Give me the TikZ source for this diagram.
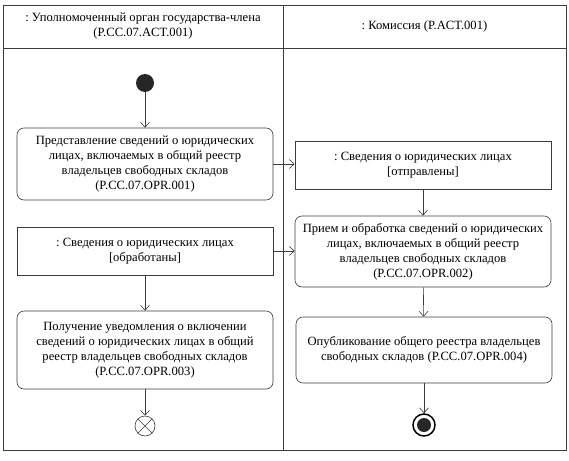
\documentclass[tikz,border=0pt]{standalone}
\usepackage{fontspec}
\setmainfont{Liberation Serif}
\usetikzlibrary{arrows.meta,positioning,calc}
\definecolor{lineclr}{RGB}{60,60,60}
\frenchspacing

\begin{document}
\begin{tikzpicture}[
  x=1pt, y=-1pt,
  font=\fontsize{12.6}{15}\selectfont,
  line width=0.6pt,
  arr/.style={-{Straight Barb[length=5pt,width=9pt]}, draw=lineclr},
  act/.style={draw=lineclr, rounded corners=7pt, align=center, minimum width=256pt, inner sep=0pt},
  obj/.style={draw=lineclr, align=center, minimum width=256pt, inner sep=0pt},
]
\useasboundingbox (0,0) rectangle (569,460);
% swimlanes
\draw[draw=lineclr] (3,5) rectangle (566,450);
\draw[draw=lineclr] (3,48) -- (566,48);
\draw[draw=lineclr, line width=1pt] (283,5) -- (283,450);
\node[align=center] (lane1) at (143,26.5) {: Уполномоченный орган государства-члена\\(P.CC.07.ACT.001)};
\node (lane2) at (424.5,26.5) {: Комиссия (P.ACT.001)};

% left lane
\node[circle, fill=black!85, minimum size=18pt, inner sep=0pt] (start) at (145,83) {};
\node[act, minimum height=72pt] (a1) at (145,164) {Представление сведений о юридических\\лицах, включаемых в общий реестр\\владельцев свободных складов\\(P.CC.07.OPR.001)};
\node[obj, minimum height=48pt] (o2) at (145,251) {: Сведения о юридических лицах\\{[обработаны]}};
\node[act, minimum height=78pt] (a3) at (145,350) {Получение уведомления о включении\\сведений о юридических лицах в общий\\реестр владельцев свободных складов\\(P.CC.07.OPR.003)};
\node[circle, draw=lineclr, minimum size=20pt, inner sep=0pt] (flowend) at (145,426) {};
\draw[draw=lineclr] (flowend.45) -- (flowend.225) (flowend.135) -- (flowend.-45);

% right lane
\node[obj, minimum height=48pt] (o1) at (423,165) {: Сведения о юридических лицах\\{[отправлены]}};
\node[act, minimum height=71pt] (a2) at (423,251.5) {Прием и обработка сведений о юридических\\лицах, включаемых в общий реестр\\владельцев свободных складов\\(P.CC.07.OPR.002)};
\node[act, minimum height=66pt] (a4) at (424,350) {Опубликование общего реестра владельцев\\свободных складов (P.CC.07.OPR.004)};
\node[circle, draw=black, line width=1.5pt, minimum size=22pt, inner sep=0pt] (final) at (424,425) {};
\node[circle, fill=black!85, minimum size=14pt, inner sep=0pt] at (final) {};

% flows
\draw[arr] (start) -- (a1);
\draw[arr] (a1.east) -- (a1.east -| o1.west);
\draw[arr] (o2.east) -- (o2.east -| a2.west);
\draw[arr] (o2) -- (a3);
\draw[arr] (a3) -- (flowend);
\draw[arr] (o1) -- (a2);
\draw[arr] (a2) -- (a4);
\draw[arr] (a4) -- (final);
\end{tikzpicture}
\end{document}
